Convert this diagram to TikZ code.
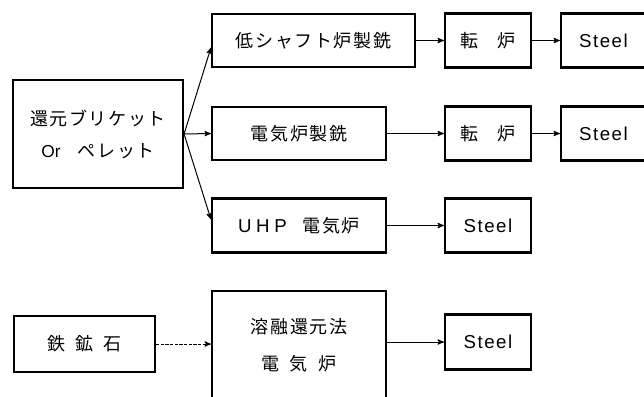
\documentclass[tikz,border=0pt]{standalone}
\usepackage{fontspec}
\setmainfont{Liberation Sans}
\newfontfamily\jp[LetterSpace=9]{Noto Sans CJK JP}
\newfontfamily\steelfont[LetterSpace=8]{Liberation Sans}
\usetikzlibrary{arrows}

\begin{document}
\begin{tikzpicture}[x=0.75pt,y=0.75pt,yscale=-1,xscale=1,
  box/.style={draw,line width=1.6,inner sep=0.75pt,align=center,font=\jp\fontsize{13.5}{16}\selectfont},
  steelbox/.style={box,font=\steelfont\fontsize{14}{16}\selectfont},
  flow/.style={line width=0.75,->,>=stealth'}]
%set diagram left start at 0, and has height of 397
\path[use as bounding box] (0,0) rectangle (644,397);

%Shape: Rectangle [pellets]
\node [box,minimum width=127.5pt,minimum height=81pt] (pellet) at (98,134) {還元ブリケット\\[8pt]{\rmfamily\fontsize{13}{15}\selectfont Or}\hspace{13pt}ペレット};

%Shape: Rectangle [low shaft]
\node [box,minimum width=152.25pt,minimum height=39.75pt] (shaft) at (313.5,40.5) {低シャフト炉製銑};
%Shape: Rectangle [electric pig iron]
\node [box,minimum width=130.5pt,minimum height=39.75pt] (efpig) at (299,133.5) {電気炉製銑};
%Shape: Rectangle [UHP]
\node [box,minimum width=130.5pt,minimum height=40.5pt] (uhp) at (299,225.5) {{\rmfamily\fontsize{14}{16}\selectfont U\hspace{3.5pt}H\hspace{3.5pt}P}\hspace{12pt}電気炉};

%Shape: Rectangle [converters]
\node [box,minimum width=64.5pt,minimum height=40.5pt] (convA) at (488,40.5) {転\hspace{14.5pt}炉};
\node [box,minimum width=64.5pt,minimum height=40.5pt] (convB) at (488,133.5) {転\hspace{14.5pt}炉};

%Shape: Rectangle [steel]
\node [steelbox,minimum width=63.75pt,minimum height=40.5pt] (steelA) at (603.5,40.5) {Steel};
\node [steelbox,minimum width=63.75pt,minimum height=40.5pt] (steelB) at (603.5,133.5) {Steel};
\node [steelbox,minimum width=64.5pt,minimum height=40.5pt] (steelC) at (488,225.5) {Steel};
\node [steelbox,minimum width=64.5pt,minimum height=41.25pt] (steelD) at (488,342) {Steel};

%Shape: Rectangle [ore]
\node [box,minimum width=105.75pt,minimum height=42pt] (ore) at (84.5,344) {鉄\hspace{7.5pt}鉱\hspace{7.5pt}石};
%Shape: Rectangle [smelting reduction]
\node [box,minimum width=130.5pt,minimum height=81.75pt] (smelt) at (299,345.5) {溶融還元法\\[12pt]電\hspace{8pt}気\hspace{8pt}炉};

%Straight Lines
\draw [flow] (pellet.east) -- (shaft.184) ;
\draw [flow] (pellet.east) -- (efpig.west) ;
\draw [flow] (pellet.east) -- (uhp.176) ;
%Straight Lines
\draw [flow] (shaft.east) -- (convA.west) ;
\draw [flow] (convA.east) -- (steelA.west) ;
\draw [flow] (efpig.east) -- (convB.west) ;
\draw [flow] (convB.east) -- (steelB.west) ;
\draw [flow] (uhp.east) -- (steelC.west) ;
%Straight Lines
\draw [flow] [dash pattern={on 2.5pt off 1pt}] (ore.east) -- (ore.east -| smelt.west) ;
\draw [flow] (steelD.west -| smelt.east) -- (steelD.west) ;

\end{tikzpicture}
\end{document}
